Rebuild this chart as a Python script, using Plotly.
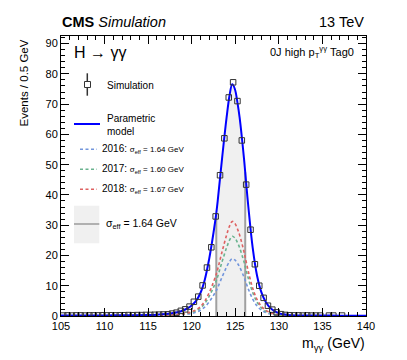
"""H->gg signal model plot, CMS style."""

import numpy as np
import plotly.graph_objects as go

# simulated events per 0.5 GeV bin, bins 105-140 (None = empty bin)
bin_centers = np.arange(105.25, 140.0, 0.5)
sim_events = [
    0.15, 0.2, 0.15, 0.2, 0.2, 0.15, 0.2, 0.2, 0.2, 0.25,
    0.2, 0.25, 0.2, 0.25, 0.25, 0.3, 0.25, 0.3, 0.3, 0.35,
    0.35, 0.4, 0.45, 0.5, 0.55, 0.8, 1.1, 1.7, 2.2, 3.1,
    4.7, 6.4, 10.1, 16.0, 22.7, 32.9, 46.5, 58.7, 72.2, 77.2,
    71.0, 58.0, 43.4, 28.5, 17.1, 10.0, 6.0, 3.4, 2.1, 1.2,
    0.6, 0.35, 0.25, 0.2, 0.2, 0.15, 0.2, 0.15, 0.15, 0.15,
    None, 0.15, 0.15, None, 0.15, None, None, None, None, None,
]

# parametric model, sampled off the curve
model_mass = [
    105.0, 107.5, 110.0, 112.5, 115.0, 116.0, 117.0, 117.5, 118.0, 118.5,
    119.0, 119.5, 120.0, 120.5, 121.0, 121.5, 122.0, 122.5, 122.82, 123.0,
    123.5, 124.0, 124.35, 124.65, 124.95, 125.25, 125.5, 126.0, 126.14, 126.5,
    127.0, 127.5, 128.0, 128.5, 129.0, 129.5, 130.0, 130.5, 131.0, 132.0,
    134.0, 137.0, 140.0,
]
model_all = [
    0.15, 0.17, 0.2, 0.25, 0.35, 0.45, 0.65, 0.8, 1.05, 1.35,
    1.8, 2.5, 3.5, 5.0, 7.6, 12.0, 18.8, 27.5, 34.0, 38.5,
    52.5, 65.5, 73.0, 76.6, 75.0, 70.5, 65.5, 52.0, 47.5, 36.0,
    22.5, 13.3, 7.8, 4.6, 2.7, 1.6, 0.95, 0.55, 0.35, 0.2,
    0.15, 0.12, 0.1,
]
model_2016 = [
    0.04, 0.04, 0.05, 0.06, 0.09, 0.11, 0.16, 0.2, 0.26, 0.33,
    0.44, 0.62, 0.86, 1.24, 1.88, 2.96, 4.64, 6.79, 8.4, 9.51,
    12.97, 16.18, 18.03, 18.92, 18.53, 17.41, 16.18, 12.84, 11.73, 8.89,
    5.56, 3.29, 1.93, 1.14, 0.67, 0.4, 0.23, 0.14, 0.09, 0.05,
    0.04, 0.03, 0.02,
]
model_2017 = [
    0.05, 0.06, 0.07, 0.09, 0.12, 0.15, 0.22, 0.28, 0.36, 0.46,
    0.62, 0.86, 1.2, 1.72, 2.61, 4.13, 6.47, 9.46, 11.7, 13.24,
    18.06, 22.53, 25.11, 26.35, 25.8, 24.25, 22.53, 17.89, 16.34, 12.38,
    7.74, 4.58, 2.68, 1.58, 0.93, 0.55, 0.33, 0.19, 0.12, 0.07,
    0.05, 0.04, 0.03,
]
model_2018 = [
    0.06, 0.07, 0.08, 0.1, 0.14, 0.18, 0.27, 0.33, 0.43, 0.55,
    0.73, 1.02, 1.43, 2.04, 3.1, 4.9, 7.67, 11.22, 13.87, 15.71,
    21.42, 26.72, 29.78, 31.25, 30.6, 28.76, 26.72, 21.22, 19.38, 14.69,
    9.18, 5.43, 3.18, 1.88, 1.1, 0.65, 0.39, 0.22, 0.14, 0.08,
    0.06, 0.05, 0.04,
]

# sigma_eff window
band_lo = 122.82
band_hi = 126.14

years = ["2016", "2017", "2018"]
sigma_eff = ["1.64", "1.60", "1.67"]
year_colors = ["#7396dc", "#6ab38f", "#de6262"]

FONT = "Liberation Sans, Arial, sans-serif"

# plot frame in pixels
PL, PR, PT, PB = 61, 366, 36, 316


def paper(x, y):
    return (x - PL) / (PR - PL), (PB - y) / (PB - PT)


fig = go.Figure()

mass = np.array(model_mass)
total = np.array(model_all)
in_band = (mass >= band_lo) & (mass <= band_hi)

fig.add_trace(go.Scatter(
    x=mass[in_band], y=total[in_band], mode="lines", line_shape="spline",
    line=dict(width=0, color="#f0f0f0"), fill="tozeroy", fillcolor="#f0f0f0",
    hoverinfo="skip",
))
for edge in (band_lo, band_hi):
    fig.add_trace(go.Scatter(
        x=[edge, edge], y=[0, total[mass == edge][0]], mode="lines",
        line=dict(color="#a0a0a0", width=2), hoverinfo="skip",
    ))

for vals, color in zip([model_2016, model_2017, model_2018], year_colors):
    fig.add_trace(go.Scatter(
        x=model_mass, y=vals, mode="lines", line_shape="spline",
        line=dict(color=color, width=1.6, dash="3px,2.5px"),
    ))

fig.add_trace(go.Scatter(
    x=model_mass, y=model_all, mode="lines", line_shape="spline",
    line=dict(color="#0000ff", width=2),
))

fig.add_trace(go.Scatter(
    x=bin_centers, y=sim_events, mode="markers",
    marker=dict(symbol="square-open", size=5.5, color="#333333", line=dict(width=1)),
))

axis_common = dict(
    showline=True, linecolor="black", linewidth=1, mirror="allticks",
    ticks="inside", tickcolor="black", ticklen=8, tickwidth=1,
    showgrid=False, zeroline=False, automargin=False,
    tickfont=dict(family=FONT, size=11, color="black"),
)

fig.update_layout(
    width=407, height=360,
    margin=dict(l=PL, r=407 - PR, t=PT, b=360 - PB),
    paper_bgcolor="white", plot_bgcolor="white",
    showlegend=False,
    xaxis=dict(range=[105, 140], dtick=5, tick0=105,
               minor=dict(dtick=1, ticks="inside", ticklen=4, tickcolor="black"),
               **axis_common),
    yaxis=dict(range=[0, 92.5], dtick=10, tick0=0,
               minor=dict(dtick=2, ticks="inside", ticklen=4, tickcolor="black"),
               **axis_common),
)

annotations = []
shapes = []


def text(x, y, s, size, xanchor="left", yanchor="middle", angle=0, color="black"):
    px_, py_ = paper(x, y)
    annotations.append(dict(
        x=px_, y=py_, xref="paper", yref="paper", text=s, showarrow=False,
        xanchor=xanchor, yanchor=yanchor, textangle=angle, align=xanchor if xanchor != "center" else "center",
        font=dict(family=FONT, size=size, color=color),
    ))


def line(x0, y0, x1, y1, color, width, dash="solid"):
    a, b = paper(x0, y0)
    c, d = paper(x1, y1)
    shapes.append(dict(type="line", xref="paper", yref="paper", x0=a, y0=b, x1=c, y1=d,
                       line=dict(color=color, width=width, dash=dash)))


def rect(x0, y0, x1, y1, fill, color=None, width=0):
    a, b = paper(x0, y0)
    c, d = paper(x1, y1)
    shapes.append(dict(type="rect", xref="paper", yref="paper", x0=a, y0=b, x1=c, y1=d,
                       fillcolor=fill, line=dict(color=color or fill, width=width)))


# header
text(60, 22, "<b>CMS</b> <i>Simulation</i>", 14.5)
text(366, 22, "13 TeV", 14.5, xanchor="right")
text(72, 52, "H → γγ", 16)
text(356, 52, "0J high p<sub>T</sub><sup>γγ</sup> Tag0", 11, xanchor="right")

# axis titles
text(23, 38, "Events / 0.5 GeV", 11.5, xanchor="center", yanchor="top", angle=-90)
text(367, 344, "m<sub>γγ</sub> (GeV)", 14, xanchor="right")

# legend
line(87.3, 73.3, 87.3, 95.7, "#333333", 1.5)
rect(84.5, 81.5, 90.5, 87.5, "white", "#333333", 1)
text(105, 85, "Simulation", 10)

line(74, 124, 100, 124, "#0000ff", 2)
text(105, 124.5, "Parametric<br>model", 10)

for i, (yr, se, col) in enumerate(zip(years, sigma_eff, year_colors)):
    yy = 149.3 + 20 * i
    line(80, yy, 97, yy, col, 1.6, "3px,2.5px")
    text(100, yy, f"{yr}: <span style='font-size:8px'>σ<sub>eff</sub> = {se} GeV</span>", 10)

rect(74, 205.7, 99.3, 243.3, "#f0f0f0")
line(74, 224, 99.3, 224, "#b0b0b0", 2)
text(104, 224, "σ<sub>eff</sub> = 1.64 GeV", 10.5)

fig.update_layout(annotations=annotations, shapes=shapes)

# page body has a default margin; drop it so the figure sits at the window corner
fig.write_html("out.html", config={"displayModeBar": False},
               post_script="document.body.style.margin='0';")
